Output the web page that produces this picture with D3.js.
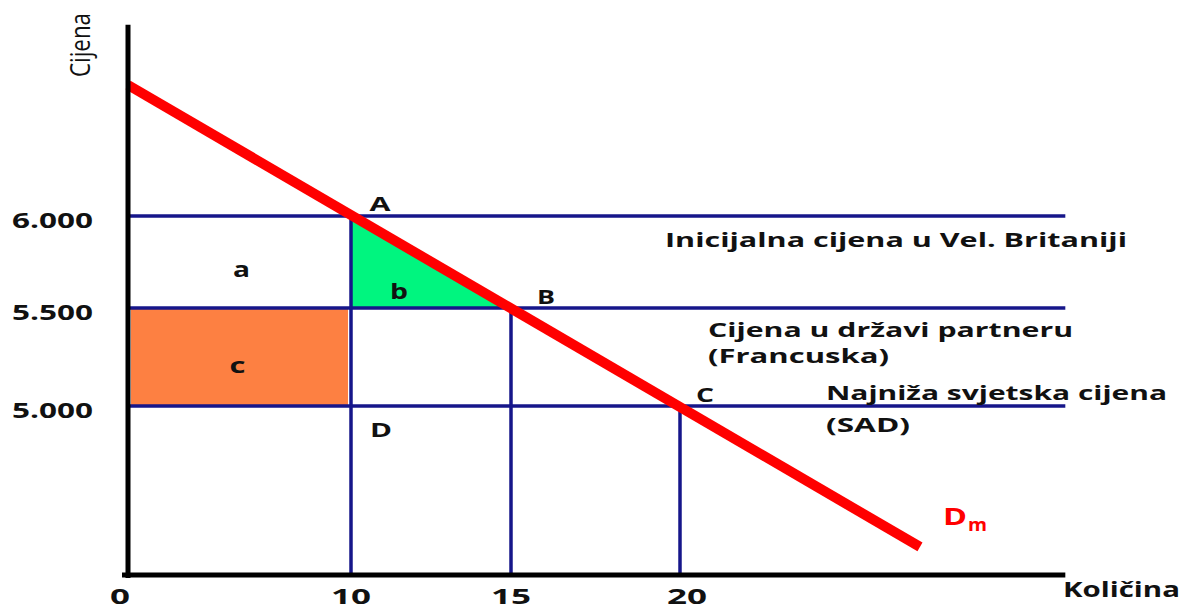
<!DOCTYPE html>
<html>
<head>
  <meta charset="utf-8">
  <title>Cijena i količina</title>
  <script src="https://d3js.org/d3.v7.min.js"></script>
  <style>
    body { margin: 0; background: #fff; }
    text { font-family: "Open Sans", "DejaVu Sans", sans-serif; fill: #111; }
  </style>
</head>
<body>
<div id="vis"></div>
<script>
// cijene (vodoravne linije) i njihove oznake
var cijene = [6000, 5500, 5000];
var cijeneOznake = ["6.000", "5.500", "5.000"];
var cijeneOpis = [
  ["Inicijalna cijena u Vel. Britaniji"],
  ["Cijena u državi partneru", "(Francuska)"],
  ["Najniža svjetska cijena", "(SAD)"]
];

// količine na osi x
var kolicine = [0, 10, 15, 20];
var kolicineOznake = ["0", "10", "15", "20"];

// tocke A, B, C, D
var tocke = [
  {ime: "A", q: 10, p: 6000},
  {ime: "B", q: 15, p: 5500},
  {ime: "C", q: 20, p: 5000},
  {ime: "D", q: 10, p: 5000}
];

// krivulja potraznje Dm (procjena sa slike)
var potraznja = [{q: 0, p: 6712}, {q: 27.1, p: 4281}];

// podrucja a, b, c
var trokutB = [{q: 10, p: 6000}, {q: 10, p: 5500}, {q: 15, p: 5500}];
var pravokutnikC = {q0: 0, q1: 10, p0: 5000, p1: 5500};

var qMax = 31.4, pMin = 4138, pMax = 7040;

var x = d3.scaleLinear().domain([0, 10, 15, 20]).range([128, 351, 511, 680]);
var y = d3.scaleLinear().domain([5000, 5500, 6000]).range([406, 308, 216]);

var plava = "#16168a";

var svg = d3.select("#vis").append("svg")
  .attr("width", 1186)
  .attr("height", 610);

// c - narancasti pravokutnik
svg.append("rect")
  .attr("x", x(pravokutnikC.q0) + 3)
  .attr("y", y(pravokutnikC.p1) + 1)
  .attr("width", x(pravokutnikC.q1) - x(pravokutnikC.q0) - 6)
  .attr("height", y(pravokutnikC.p0) - y(pravokutnikC.p1) - 1)
  .attr("fill", "#fd8042");

// b - zeleni trokut
svg.append("path")
  .attr("d", d3.line().x(function(d) { return x(d.q); }).y(function(d) { return y(d.p); })(trokutB) + "Z")
  .attr("fill", "#00f57f");

// vodoravne linije cijena
svg.selectAll("line.cijena").data(cijene).enter().append("line")
  .attr("class", "cijena")
  .attr("x1", x(0))
  .attr("x2", x(qMax))
  .attr("y1", function(d) { return y(d); })
  .attr("y2", function(d) { return y(d); })
  .attr("stroke", plava)
  .attr("stroke-width", 3.5);

// okomite linije
svg.selectAll("line.okomita").data(tocke.slice(0, 3)).enter().append("line")
  .attr("class", "okomita")
  .attr("x1", function(d) { return x(d.q); })
  .attr("x2", function(d) { return x(d.q); })
  .attr("y1", function(d) { return y(d.p); })
  .attr("y2", y(pMin))
  .attr("stroke", plava)
  .attr("stroke-width", 3.5);

// potraznja
svg.append("path")
  .attr("d", d3.line().x(function(d) { return x(d.q); }).y(function(d) { return y(d.p); })(potraznja))
  .attr("fill", "none")
  .attr("stroke", "#ff0000")
  .attr("stroke-width", 10);

// osi
svg.append("line")
  .attr("x1", x(0)).attr("x2", x(0))
  .attr("y1", y(pMax)).attr("y2", y(pMin) + 3)
  .attr("stroke", "#000").attr("stroke-width", 5);
svg.append("line")
  .attr("x1", x(0) - 6).attr("x2", x(qMax))
  .attr("y1", y(pMin)).attr("y2", y(pMin))
  .attr("stroke", "#000").attr("stroke-width", 5);

function tekst(sel, str, sirina) {
  sel.text(str);
  if (sirina) sel.attr("textLength", sirina).attr("lengthAdjust", "spacingAndGlyphs");
  return sel;
}

// oznake cijena
svg.selectAll("text.yt").data(cijene).enter().append("text")
  .attr("class", "yt")
  .attr("x", 93)
  .attr("y", function(d) { return y(d) + 12; })
  .attr("text-anchor", "end")
  .attr("font-size", 21)
  .attr("font-weight", "bold")
  .attr("textLength", 81)
  .attr("lengthAdjust", "spacingAndGlyphs")
  .text(function(d, i) { return cijeneOznake[i]; });

// oznake kolicina
svg.selectAll("text.xt").data(kolicine).enter().append("text")
  .attr("class", "xt")
  .attr("x", function(d) { return x(d) + (d === 20 ? 7 : (d === 0 ? -8 : 0)); })
  .attr("y", y(pMin) + 29)
  .attr("text-anchor", "middle")
  .attr("font-size", 21)
  .attr("font-weight", "bold")
  .attr("textLength", function(d, i) { return kolicineOznake[i].length * 20; })
  .attr("lengthAdjust", "spacingAndGlyphs")
  .text(function(d, i) { return kolicineOznake[i]; });

// opisi cijena
var opisPoz = [
  {x: 665, dy: [31], w: [462]},
  {x: 708, dy: [29, 55], w: [365, 181]},
  {x: 826, dy: [-6, 26], w: [341, 84]}
];
cijene.forEach(function(p, i) {
  cijeneOpis[i].forEach(function(red, j) {
    tekst(svg.append("text")
      .attr("x", opisPoz[i].x)
      .attr("y", y(p) + opisPoz[i].dy[j])
      .attr("font-size", 20)
      .attr("font-weight", "bold"), red, opisPoz[i].w[j]);
  });
});

// tocke A B C D
var tockePomak = {A: [29, -5, 21], B: [35, -4, 18], C: [25, -4, 18], D: [30, 31, 22]};
tocke.forEach(function(t) {
  var o = tockePomak[t.ime];
  tekst(svg.append("text")
    .attr("x", x(t.q) + o[0])
    .attr("y", y(t.p) + o[1])
    .attr("text-anchor", "middle")
    .attr("font-size", 20)
    .attr("font-weight", "bold"), t.ime, o[2]);
});

// podrucja a b c
tekst(svg.append("text")
  .attr("x", (x(0) + x(10)) / 2 + 2)
  .attr("y", (y(6000) + y(5500)) / 2 + 15)
  .attr("text-anchor", "middle").attr("font-size", 21).attr("font-weight", "bold"), "a", 17);
tekst(svg.append("text")
  .attr("x", x(11.5))
  .attr("y", y(5500) - 9)
  .attr("text-anchor", "middle").attr("font-size", 21).attr("font-weight", "bold"), "b", 18);
tekst(svg.append("text")
  .attr("x", (x(pravokutnikC.q0) + x(pravokutnikC.q1)) / 2 - 2)
  .attr("y", (y(5000) + y(5500)) / 2 + 16)
  .attr("text-anchor", "middle").attr("font-size", 21).attr("font-weight", "bold"), "c", 16);

// Dm
var dm = svg.append("text")
  .attr("x", 943)
  .attr("y", 525)
  .attr("font-size", 24)
  .attr("font-weight", "bold")
  .style("fill", "#ff0000");
dm.append("tspan").attr("textLength", 24).attr("lengthAdjust", "spacingAndGlyphs").text("D");
dm.append("tspan").attr("font-size", 17).attr("dy", 6).attr("dx", 1)
  .attr("textLength", 19).attr("lengthAdjust", "spacingAndGlyphs").text("m");

// naslovi osi
tekst(svg.append("text")
  .attr("x", 1063)
  .attr("y", 597)
  .attr("font-size", 21)
  .attr("font-weight", "bold"), "Količina", 117);

tekst(svg.append("text")
  .attr("transform", "translate(90,45) rotate(-90)")
  .attr("text-anchor", "middle")
  .attr("font-size", 27), "Cijena", 64);
</script>
</body>
</html>
